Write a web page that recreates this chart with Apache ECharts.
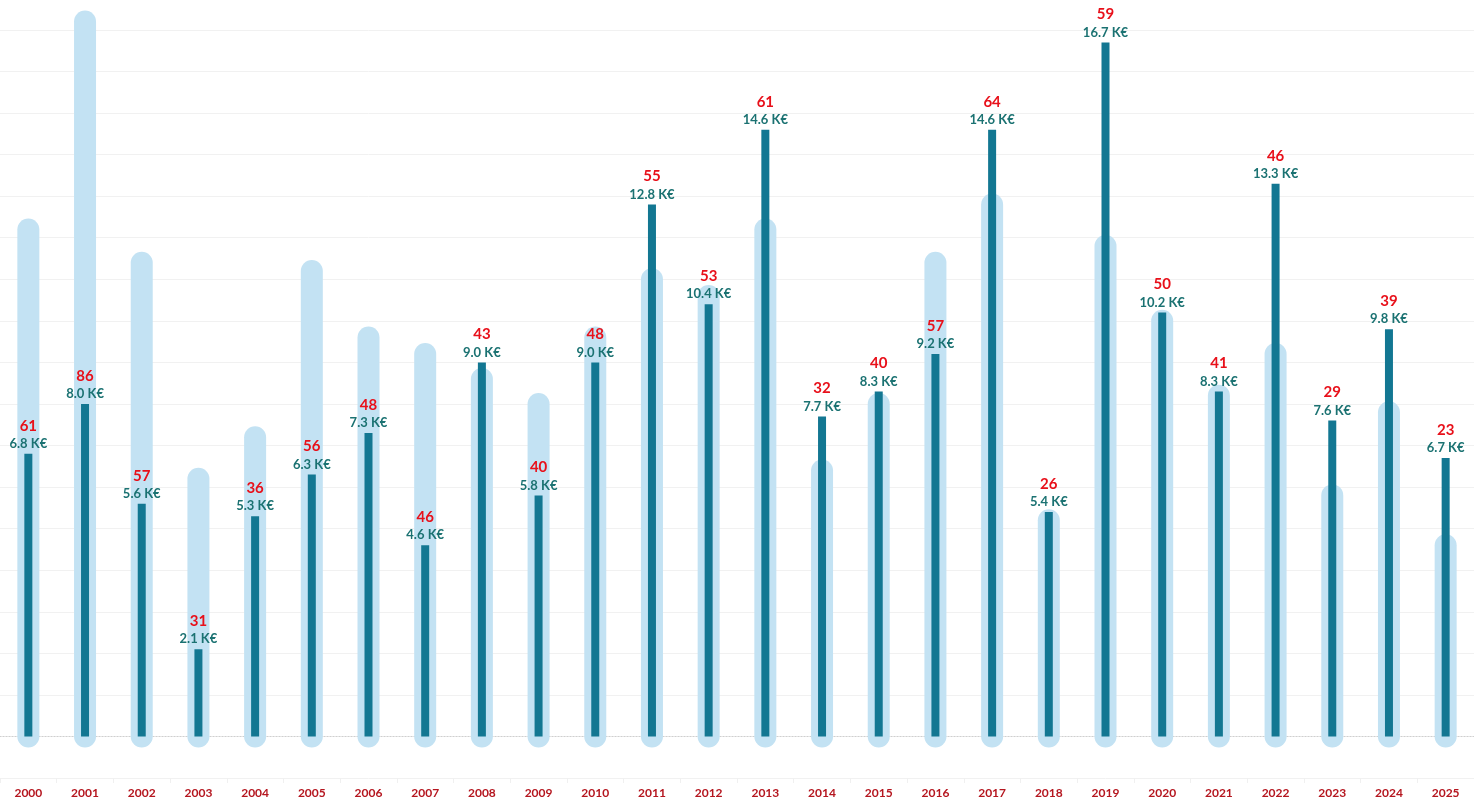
<!DOCTYPE html>
<html>
<head>
<meta charset="utf-8">
<script src="https://cdn.jsdelivr.net/npm/echarts@6/dist/echarts.min.js"></script>
<style>
  html, body { margin: 0; padding: 0; background: #fff; }
  #chart { width: 1474px; height: 805px; }
</style>
</head>
<body>
<div id="chart"></div>
<script>
// années
var years = ['2000','2001','2002','2003','2004','2005','2006','2007','2008','2009','2010','2011','2012',
  '2013','2014','2015','2016','2017','2018','2019','2020','2021','2022','2023','2024','2025'];
// nombre (barres claires)
var counts = [61, 86, 57, 31, 36, 56, 48, 46, 43, 40, 48, 55, 53, 61, 32, 40, 57, 64, 26, 59, 50, 41, 46, 29, 39, 23];
// montant en K€ (barres foncées)
var amounts = [6.8, 8.0, 5.6, 2.1, 5.3, 6.3, 7.3, 4.6, 9.0, 5.8, 9.0, 12.8, 10.4, 14.6, 7.7, 8.3, 9.2, 14.6, 5.4, 16.7, 10.2, 8.3, 13.3, 7.6, 9.8, 6.7];

var FONT = 'Lato';
var chart = echarts.init(document.getElementById('chart'));

chart.setOption({
  animation: false,
  grid: { left: 0, right: 0, top: 0, bottom: 27 },
  xAxis: [
    {
      type: 'category',
      data: years,
      axisLine: { show: false, onZero: false },
      axisTick: { show: true, alignWithLabel: false, length: 5, lineStyle: { color: '#f0f0f0' } },
      axisLabel: { color: '#b5161f', fontFamily: FONT, fontWeight: 'bold', fontSize: 12, margin: 9 }
    },
    {
      // ligne zéro pointillée (sous les séries)
      type: 'category',
      data: years,
      position: 'bottom',
      axisLine: { show: true, onZero: true, onZeroAxisIndex: 0, lineStyle: { color: '#cfcfcf', type: [1, 2], width: 1 } },
      axisTick: { show: false },
      axisLabel: { show: false }
    }
  ],
  yAxis: [
    {
      type: 'value', min: -1, max: 17.72, interval: 1,
      axisLabel: { show: false }, axisLine: { show: false }, axisTick: { show: false },
      splitLine: { show: true, showMaxLine: false, lineStyle: { color: '#f1f1f1', width: 1 } }
    },
    {
      type: 'value', min: -5, max: 88.6,
      axisLabel: { show: false }, axisLine: { show: false }, axisTick: { show: false },
      splitLine: { show: false }
    }
  ],
  series: [
    {
      // nombre : capsules claires
      type: 'custom',
      yAxisIndex: 1,
      z: 1,
      silent: true,
      data: counts.map(function (c, i) { return [i, c]; }),
      encode: { x: 0, y: 1 },
      renderItem: function (params, api) {
        var p0 = api.coord([api.value(0), 0]);
        var p1 = api.coord([api.value(0), api.value(1)]);
        return {
          type: 'line',
          shape: { x1: p0[0], y1: p0[1], x2: p1[0], y2: p1[1] },
          style: { stroke: '#c3e2f3', lineWidth: 22, lineCap: 'round' }
        };
      }
    },
    {
      // montant K€ : barres fines
      type: 'bar',
      yAxisIndex: 0,
      z: 3,
      barWidth: 8,
      data: amounts,
      itemStyle: { color: '#137792' },
      label: {
        show: true,
        position: 'top',
        distance: 1,
        fontFamily: FONT,
        formatter: function (p) {
          return '{n|' + counts[p.dataIndex] + '}\n{v|' + amounts[p.dataIndex].toFixed(1) + ' K€}';
        },
        rich: {
          n: { color: '#e8101a', fontSize: 15, fontWeight: 'bold', fontFamily: FONT, lineHeight: 18 },
          v: { color: '#1b7272', fontSize: 13, fontWeight: 'bold', fontFamily: FONT, lineHeight: 18 }
        }
      }
    }
  ]
});
</script>
</body>
</html>
